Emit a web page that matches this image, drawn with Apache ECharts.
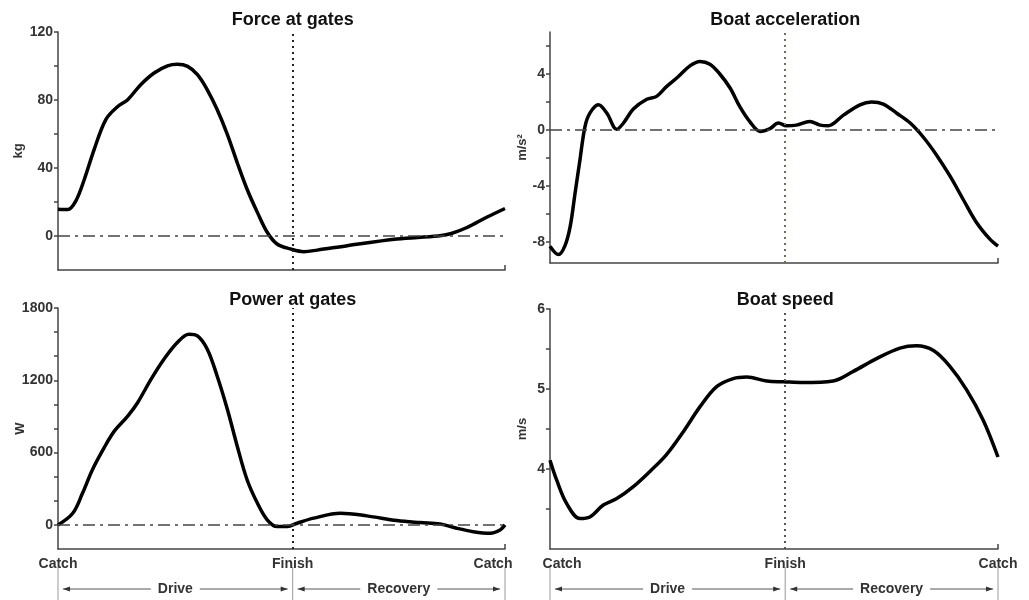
<!DOCTYPE html>
<html><head><meta charset="utf-8">
<script src="https://cdn.jsdelivr.net/npm/echarts@6/dist/echarts.min.js"></script>
<style>html,body{margin:0;padding:0;background:#fff}#c{width:1029px;height:600px}</style>
</head><body><div id="c"></div>
<script>
// ---- data (x = % of stroke cycle, Catch=0, Finish, Catch=100) ----
const FINISH = 52.5;
const phaseNames = ['Drive', 'Recovery'];
const xTickLabels = ['Catch', 'Finish', 'Catch'];
const titles = ['Force at gates', 'Boat acceleration', 'Power at gates', 'Boat speed'];
const yNames = ['kg', 'm/s²', 'W', 'm/s'];

const forceStroke = [0,2.2,4,5.9,8.1,10.7,13.3,15.6,18.5,21.5,24.5,26.7,29,31.2,33.4,35.6,37.9,40.1,42.3,44.6,46.8,49,52,55,58,64.7,75.8,85,88,91.5,95.9,100];
const forceKg = [15.8,15.6,20.7,33.4,51,68.5,76,80.2,89,95.9,100.1,101,99.8,94.9,86,74.4,59.7,43.1,27.5,13.9,2.2,-4.7,-7.6,-9.2,-8.3,-5.7,-1.8,0,1.5,5,11,16.2];

const accelStroke = [0,1.9,3.3,4.5,5.6,6.7,7.8,8.9,10.8,12.7,14.9,16.4,18.6,21.6,23.8,26,28.6,31.3,33.5,35.7,37.9,40.2,42.4,44.6,46.9,49.1,51,52.8,55,58,60.3,62.1,65.5,69.2,71.8,74.4,77.4,80.4,83.3,86.3,89.3,92.3,95.2,98.2,100];
const accelMs2 = [-8.3,-8.9,-8.3,-6.9,-4.5,-2.1,0.23,1.2,1.8,1.2,0.05,0.5,1.5,2.2,2.4,3.1,3.8,4.6,4.9,4.7,4.0,3.0,1.65,0.6,-0.1,0.1,0.5,0.3,0.35,0.6,0.35,0.3,1.06,1.8,2.0,1.85,1.2,0.5,-0.5,-1.8,-3.3,-5.0,-6.6,-7.8,-8.3];

const powerStroke = [0,3.3,5.5,7.7,10.3,12.6,15.6,17.8,20.8,23.7,26.7,29.3,31.2,33.4,35.6,37.9,40.1,42.3,44.6,46.8,49,51.3,53.5,57.2,63.2,69.1,75.8,81,85.5,89.2,92.9,96.7,98.9,100];
const powerW = [0,97,264,458,639,778,903,1014,1208,1375,1514,1583,1569,1458,1236,958,653,375,181,42,-14,-14,14,56,97,75,36,19,8,-28,-56,-69,-42,0];

const speedStroke = [0,1.5,3.7,6.7,8.9,11.9,14.9,18.6,22.3,26,29.8,33.5,37.2,40.9,43.9,48.4,52.1,56.5,63.2,67.7,72.9,78.1,81.8,85.6,89.3,93,96.7,100];
const speedMs = [4.11,3.86,3.57,3.38,3.40,3.55,3.63,3.78,3.97,4.18,4.47,4.78,5.03,5.13,5.15,5.10,5.09,5.08,5.10,5.22,5.38,5.51,5.54,5.48,5.28,4.99,4.61,4.15];

// axis ticks
const forceTicks = [0,20,40,60,80,100,120], forceLabels = [0,40,80,120];
const accelTicks = [-8,-6,-4,-2,0,2,4,6], accelLabels = [-8,-4,0,4];
const powerTicks = [0,200,400,600,800,1000,1200,1400,1600,1800], powerLabels = [0,600,1200,1800];
const speedTicks = [3.5,4,4.5,5,5.5,6], speedLabels = [4,5,6];

// ---- chart ----
const FONT = '"Liberation Sans", Arial, sans-serif';
const AXC = '#444';
const chart = echarts.init(document.getElementById('c'), null, {renderer: 'canvas'});
const zip = (a, b) => a.map((v, i) => [v, b[i]]);

const grids = [
  {left: 58, top: 32, width: 447, height: 238},
  {left: 550, top: 32, width: 448, height: 231},
  {left: 58, top: 308, width: 447, height: 241},
  {left: 550, top: 309, width: 448, height: 240}
];
const yRanges = [[-20,120],[-9.5,7],[-200,1800],[3,6]];
const yTicks = [forceTicks, accelTicks, powerTicks, speedTicks];
const yLabels = [forceLabels, accelLabels, powerLabels, speedLabels];
const yNameGaps = [33, 21, 31, 21];
const finishColors = ['#222', '#7d6b4f', '#222', '#555'];
const seriesData = [zip(forceStroke, forceKg), zip(accelStroke, accelMs2), zip(powerStroke, powerW), zip(speedStroke, speedMs)];

const labelBase = {fontFamily: FONT, fontWeight: 'bold', fontSize: 14, color: '#333'};
const xAxes = grids.map((g, i) => ({
  type: 'value', gridIndex: i, min: 0, max: 100,
  splitLine: {show: false},
  axisLine: {onZero: false, lineStyle: {color: AXC, width: 1.5}},
  axisTick: {show: true, inside: true, length: 5, customValues: [100], lineStyle: {color: AXC, width: 1.5}},
  axisLabel: Object.assign({
    show: i >= 2, customValues: [0, FINISH, 100], margin: 8,
    formatter: v => {
      if (v === FINISH) return xTickLabels[1];
      if (v === 0) return i === 3 ? '{r|' + xTickLabels[0] + '}' : xTickLabels[0];
      return i === 2 ? '{l|' + xTickLabels[2] + '}' : xTickLabels[2];
    },
    rich: {
      l: Object.assign({padding: [0, 24, 0, 0]}, labelBase),
      r: Object.assign({padding: [0, 0, 0, 24]}, labelBase)
    }
  }, labelBase)
}));
const yAxes = grids.map((g, i) => ({
  type: 'value', gridIndex: i, min: yRanges[i][0], max: yRanges[i][1],
  splitLine: {show: false},
  name: yNames[i], nameLocation: 'middle', nameGap: yNameGaps[i], nameRotate: 90, nameMoveOverlap: false,
  nameTextStyle: {fontFamily: FONT, fontWeight: 'bold', fontSize: 13, color: '#333'},
  axisLine: {show: true, onZero: false, lineStyle: {color: AXC, width: 1.5}},
  axisTick: {show: true, length: 4, customValues: yTicks[i], lineStyle: {color: AXC, width: 1.5}},
  axisLabel: Object.assign({customValues: yLabels[i], margin: 5, formatter: v => String(v)}, labelBase)
}));
const series = grids.map((g, i) => ({
  type: 'line', xAxisIndex: i, yAxisIndex: i, data: seriesData[i],
  smooth: 0.35, showSymbol: false, symbol: 'none',
  lineStyle: {color: '#000', width: 3.5},
  markLine: {
    silent: true, symbol: ['none', 'none'], label: {show: false}, animation: false,
    data: [
      {xAxis: FINISH, lineStyle: {type: [2, 4], color: finishColors[i], width: 2}},
      ...(i === 3 ? [] : [{yAxis: 0, lineStyle: {type: [12, 5, 3, 5], color: '#444', width: 1.6}}])
    ]
  }
}));

chart.setOption({
  animation: false, backgroundColor: '#fff',
  grid: grids, xAxis: xAxes, yAxis: yAxes, series
});

// ---- annotations: titles and phase brackets positioned through the axes ----
const measure = (() => {
  const ctx = document.createElement('canvas').getContext('2d');
  return (t, f) => { ctx.font = f; return ctx.measureText(t).width; };
})();
const gfx = [];
const titleY = [20, 20, 300, 300];
titles.forEach((t, i) => {
  const p = chart.convertToPixel({gridIndex: i}, [FINISH, 0]);
  gfx.push({type: 'text', silent: true, style: {text: t, x: p[0], y: titleY[i], align: 'center', verticalAlign: 'middle',
    font: 'bold 18px ' + FONT, fill: '#111'}});
});
[2, 3].forEach(gi => {
  const xs = [0, FINISH, 100].map(v => chart.convertToPixel({gridIndex: gi}, [v, yRanges[gi][0]])[0]);
  const yTop = 567, yBot = 600, yA = 589;
  xs.forEach(x => gfx.push({type: 'line', silent: true, shape: {x1: x, y1: yTop, x2: x, y2: yBot}, style: {stroke: '#999', lineWidth: 1}}));
  for (let k = 0; k < 2; k++) {
    const a = xs[k] + 5, b = xs[k + 1] - 5, mid = (xs[k] + xs[k + 1]) / 2;
    const tf = 'bold 14px ' + FONT;
    const half = measure(phaseNames[k], tf) / 2 + 7;
    gfx.push({type: 'text', silent: true, style: {text: phaseNames[k], x: mid, y: yA, align: 'center', verticalAlign: 'middle', font: tf, fill: '#333'}});
    gfx.push({type: 'line', silent: true, shape: {x1: a, y1: yA, x2: mid - half, y2: yA}, style: {stroke: '#555', lineWidth: 1}});
    gfx.push({type: 'line', silent: true, shape: {x1: mid + half, y1: yA, x2: b, y2: yA}, style: {stroke: '#555', lineWidth: 1}});
    gfx.push({type: 'polygon', silent: true, shape: {points: [[a, yA], [a + 7, yA - 2.5], [a + 7, yA + 2.5]]}, style: {fill: '#333'}});
    gfx.push({type: 'polygon', silent: true, shape: {points: [[b, yA], [b - 7, yA - 2.5], [b - 7, yA + 2.5]]}, style: {fill: '#333'}});
  }
});
chart.setOption({graphic: gfx});
</script></body></html>
